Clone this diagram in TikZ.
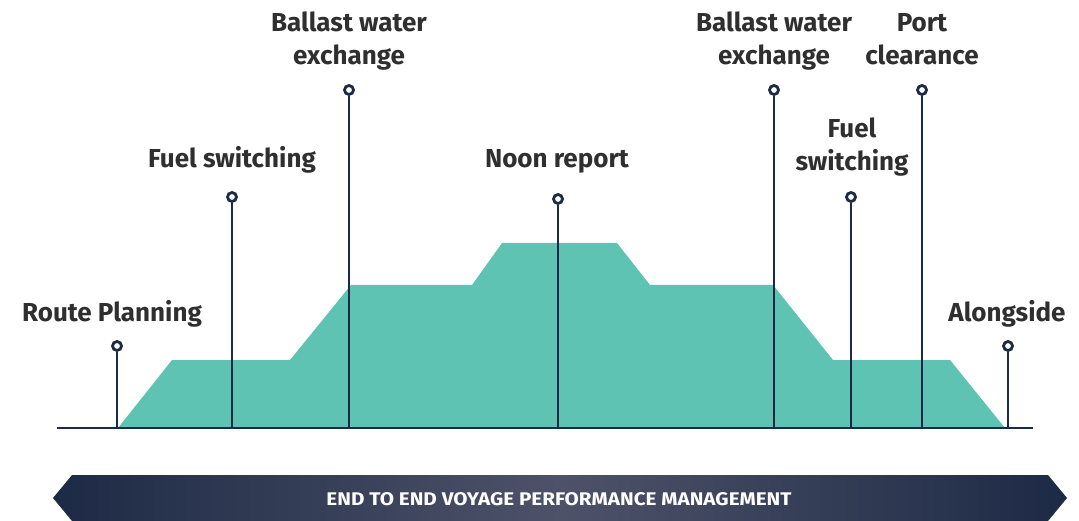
\documentclass[tikz,border=0pt]{standalone}
\usepackage{fontspec}
\setmainfont{Fira Sans}
\usetikzlibrary{calc}
\definecolor{tealfill}{HTML}{5FC3B4}
\definecolor{navy}{HTML}{1D2A45}
\definecolor{bandmid}{HTML}{4D5269}
\definecolor{txtgray}{HTML}{2F2F2F}
\begin{document}
\begin{tikzpicture}[x=1pt,y=-1pt,
  lbl/.style={font=\fontsize{26}{33}\selectfont\bfseries, text=txtgray, inner sep=0pt, anchor=base, align=center},
  pinc/.style={circle, draw=navy, fill=white, line width=2.8pt, minimum size=9pt, inner sep=0pt},
  stem/.style={draw=navy, line width=2.8pt},
  axis/.style={draw=navy, line width=2.2pt}]
\useasboundingbox (0,0) rectangle (1079,521);
% teal profile
\fill[tealfill] (118,428) -- (172,360) -- (290,360) -- (351,285) -- (472,285) -- (502,243)
  -- (617,243) -- (650,285) -- (773,285) -- (833,360) -- (950,360) -- (1005,428) -- cycle;
% axis
\coordinate (axL) at (57,428);
\coordinate (axR) at (1033,428);
\draw[axis] (axL) -- (axR);
% pins
\foreach \n/\x/\y in {1/117/346, 2/232/197, 3/349/90, 4/558/199, 5/774/90, 6/851/197, 7/922/90, 8/1008/346}{
  \coordinate (b\n) at (\x,428);
  \node[pinc] (p\n) at (\x,\y) {};
  \draw[stem] (p\n.south) -- (b\n);
}
% labels (base = baseline of last line)
\node[lbl] (l1) at (112,322) {Route Planning};
\node[lbl] (l2) at (232,168) {Fuel switching};
\node[lbl] (l3) at (349,65) {Ballast water\\exchange};
\node[lbl] (l4) at (557,168) {Noon report};
\node[lbl] (l5) at (774,65) {Ballast water\\exchange};
\node[lbl] (l6) at (852,171) {Fuel\\switching};
\node[lbl] (l7) at (922,65) {Port\\clearance};
\node[lbl] (l8) at (1007,322) {Alongside};
% band
\path[left color=navy, right color=navy, middle color=bandmid]
  (53,498) -- (72,475) -- (1048,475) -- (1067,498) -- (1048,521) -- (72,521) -- cycle;
\node[text=white, inner sep=0pt] (band) at (559,499)
  {\resizebox{465pt}{13pt}{\bfseries END TO END VOYAGE PERFORMANCE MANAGEMENT}};
\end{tikzpicture}
\end{document}
